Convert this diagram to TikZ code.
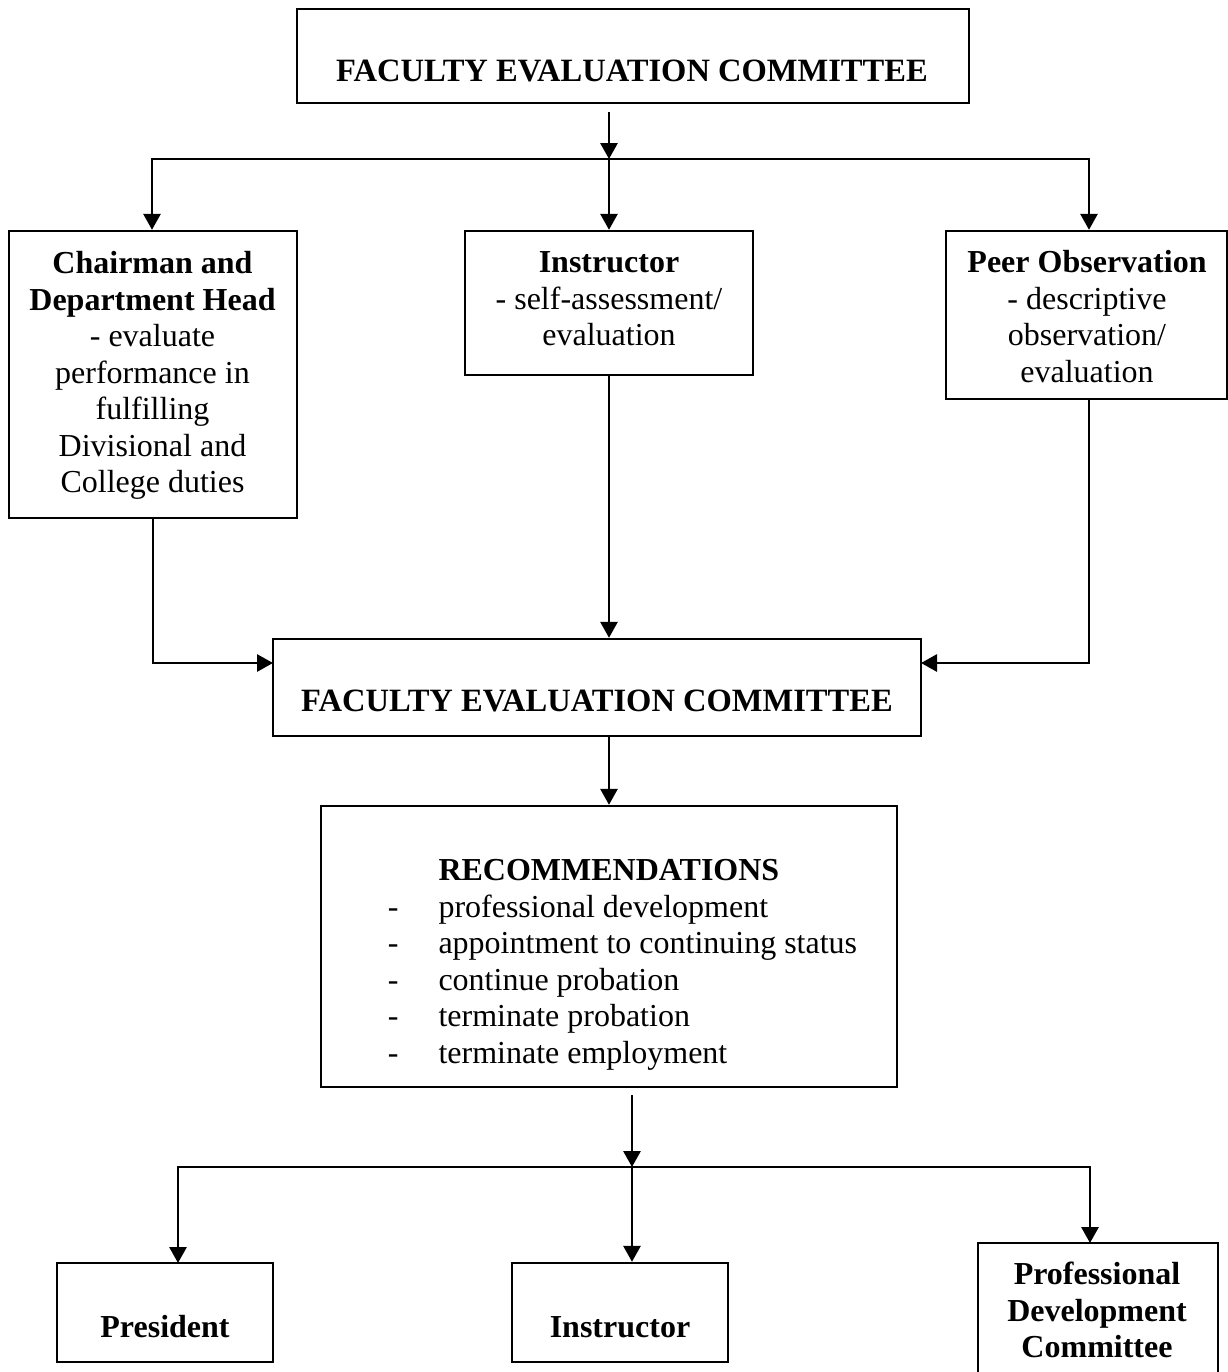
\documentclass[tikz,border=0pt]{standalone}
\usepackage{fontspec}
\setmainfont{Liberation Serif}
\usetikzlibrary{arrows.meta,fit}
\begin{document}
\begin{tikzpicture}[x=0.375pt,y=-0.375pt,
  box/.style={draw,line width=0.9pt,inner sep=0pt,rectangle},
  txt/.style={inner sep=0pt,align=center,font=\fontsize{12}{13.7}\selectfont},
  conn/.style={line width=1pt},
  arr/.style={line width=1pt,-{Triangle[length=6pt,width=6.4pt]}}]
\useasboundingbox (0,0) rectangle (1228,1372);
% boxes
\node[box,fit={(297,9) (969,103)}] (top) {};
\node[box,fit={(9,231) (297,518)}] (chair) {};
\node[box,fit={(465,231) (753,375)}] (instr) {};
\node[box,fit={(946,231) (1227,399)}] (peer) {};
\node[box,fit={(273,639) (921,736)}] (fec) {};
\node[box,fit={(321,806) (897,1087)}] (rec) {};
\node[box,fit={(57,1263) (273,1362)}] (pres) {};
\node[box,fit={(512,1263) (728,1362)}] (instrb) {};
\node[box,fit={(978,1243) (1218,1390)}] (pdc) {};
% texts
\node[txt,anchor=base] (toptxt) at (632,81) {\textbf{\fontsize{12.2}{13.7}\selectfont FACULTY EVALUATION COMMITTEE}};
\node[txt,anchor=north] (chairtxt) at (152.5,246.3) {\vrule height10pt width0pt\textbf{Chairman and}\\\textbf{Department Head}\\- evaluate\\performance in\\fulfilling\\Divisional and\\College duties};
\node[txt,anchor=north] (instrtxt) at (609,245.3) {\vrule height10pt width0pt\textbf{Instructor}\\- self-assessment/\\evaluation};
\node[txt,anchor=north] (peertxt) at (1087,245.3) {\vrule height10pt width0pt\textbf{Peer Observation}\\- descriptive\\observation/\\evaluation};
\node[txt,anchor=base] (fectxt) at (597,711) {\textbf{\fontsize{12.2}{13.7}\selectfont FACULTY EVALUATION COMMITTEE}};
\node[txt,align=left,anchor=north west] (rectxt) at (438,853.3) {\vrule height10pt width0pt\textbf{RECOMMENDATIONS}\\
\llap{-\hspace{15pt}}professional development\\
\llap{-\hspace{15pt}}appointment to continuing status\\
\llap{-\hspace{15pt}}continue probation\\
\llap{-\hspace{15pt}}terminate probation\\
\llap{-\hspace{15pt}}terminate employment};
\node[txt,anchor=base] (prestxt) at (165,1337) {\textbf{President}};
\node[txt,anchor=base] (instrbtxt) at (620,1337) {\textbf{Instructor}};
\node[txt,anchor=north] (pdctxt) at (1097,1257.3) {\vrule height10pt width0pt\textbf{Professional}\\\textbf{Development}\\\textbf{Committee}};
% junction coordinates
\coordinate (s1) at (609,112);
\coordinate (j1) at (609,159);
\coordinate (jl) at (152,159);
\coordinate (jr) at (1089,159);
\coordinate (pb) at (1089,399);
\coordinate (fl) at (273,663);
\coordinate (fr) at (921,663);
\coordinate (fs) at (609,736);
\coordinate (s2) at (632,1095);
\coordinate (j2) at (632,1167);
\coordinate (pt) at (178,1263);
\coordinate (dt) at (1090,1243);
% connectors
\draw[arr] (s1) -- (j1);
\draw[arr] (j1) -| (chair.north -| jl);
\draw[arr] (j1) -- (instr.north);
\draw[arr] (j1) -| (peer.north -| jr);
\draw[arr] (chair.south) |- (fl);
\draw[arr] (instr.south) -- (fec.north -| instr.south);
\draw[arr] (pb) |- (fr);
\draw[arr] (fs) -- (rec.north -| fs);
\draw[arr] (s2) -- (j2);
\draw[arr] (j2) -| (pt);
\draw[arr] (j2) -- (instrb.north -| j2);
\draw[arr] (j2) -| (dt);
\end{tikzpicture}
\end{document}
